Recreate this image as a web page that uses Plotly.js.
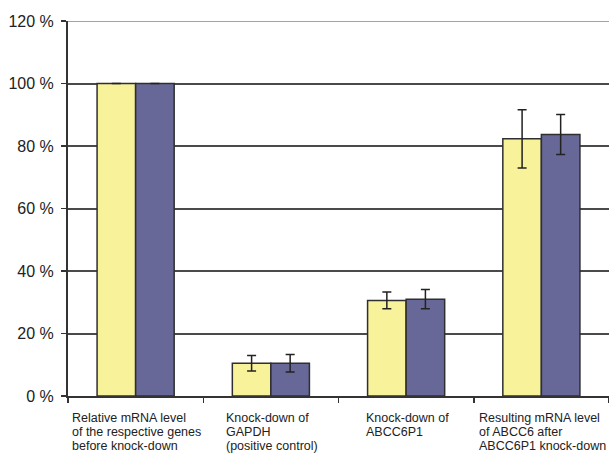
<!DOCTYPE html>
<html>
<head>
<meta charset="utf-8">
<script src="https://cdn.plot.ly/plotly-3.0.1.min.js"></script>
<style>html,body{margin:0;padding:0;background:#fff;}#chart{width:609px;height:453px;}</style>
</head>
<body>
<div id="chart"></div>
<script>
// Data
var categories = ['baseline', 'GAPDH', 'ABCC6P1', 'ABCC6'];
var categoryLabels = [
  ['Relative mRNA level', 'of the respective genes', 'before knock-down'],
  ['Knock-down of', 'GAPDH', '(positive control)'],
  ['Knock-down of', 'ABCC6P1'],
  ['Resulting mRNA level', 'of ABCC6 after', 'ABCC6P1 knock-down']
];
var series1Values = [100, 10.5, 30.6, 82.3];
var series1Errors = [0, 2.5, 2.7, 9.3];
var series2Values = [100, 10.5, 31.0, 83.7];
var series2Errors = [0, 2.8, 3.1, 6.4];
var yTickValues = [0, 20, 40, 60, 80, 100, 120];
var yTickLabels = ['0 %', '20 %', '40 %', '60 %', '80 %', '100 %', '120 %'];

var FONT = 'Liberation Sans, Arial, sans-serif';
var LABEL_SIZE = 12.5;
var outline = {color: '#2f2f2f', width: 1.5};
var errStyle = {type: 'data', visible: true, color: '#222', thickness: 1.5, width: 4.5};

var traces = [
  {
    type: 'bar', name: 'Series 1', x: categories, y: series1Values,
    marker: {color: '#f8f29b', line: outline},
    error_y: Object.assign({array: series1Errors}, errStyle),
    hoverinfo: 'none'
  },
  {
    type: 'bar', name: 'Series 2', x: categories, y: series2Values,
    marker: {color: '#676897', line: outline},
    error_y: Object.assign({array: series2Errors}, errStyle),
    hoverinfo: 'none'
  }
];

// left-aligned label blocks centred on each category
var ctx = document.createElement('canvas').getContext('2d');
ctx.font = LABEL_SIZE + 'px "Liberation Sans", Arial, sans-serif';
var annotations = [];
categories.forEach(function (c, i) {
  var lines = categoryLabels[i];
  var blockW = Math.max.apply(null, lines.map(function (t) { return ctx.measureText(t).width; }));
  lines.forEach(function (t, j) {
    annotations.push({
      xref: 'x', yref: 'paper', x: c, y: 0,
      xanchor: 'left', yanchor: 'middle',
      xshift: -blockW / 2 - 1, yshift: -22 - 14 * j,
      align: 'left', showarrow: false, text: t,
      font: {family: FONT, size: LABEL_SIZE, color: '#222'}
    });
  });
});

var layout = {
  width: 609, height: 453,
  margin: {l: 68, r: 0, t: 21, b: 57, pad: 0},
  paper_bgcolor: '#fff', plot_bgcolor: '#fff',
  showlegend: false,
  barmode: 'group', bargap: 0.43, bargroupgap: 0,
  font: {family: FONT, color: '#222'},
  xaxis: {
    type: 'category', range: [-0.5, 3.5],
    showticklabels: false, tickson: 'boundaries',
    ticks: 'outside', ticklen: 5, tickwidth: 1.5, tickcolor: '#333',
    showline: true, linecolor: '#333', linewidth: 2,
    showgrid: false, zeroline: false, fixedrange: true
  },
  yaxis: {
    range: [0, 120], tickmode: 'array', tickvals: yTickValues, ticktext: yTickLabels,
    ticks: 'outside', ticklen: 5, tickwidth: 1.5, tickcolor: '#333',
    ticklabelstandoff: 4,
    tickfont: {size: 16, color: '#222', family: FONT},
    showline: true, linecolor: '#333', linewidth: 2,
    showgrid: true, gridcolor: '#4a4a4a', gridwidth: 2,
    zeroline: false, fixedrange: true
  },
  shapes: [
    {type: 'line', xref: 'paper', yref: 'y', x0: 0, x1: 1,
     y0: yTickValues[yTickValues.length - 1], y1: yTickValues[yTickValues.length - 1],
     line: {color: '#a3a3a3', width: 2}, layer: 'above'}
  ],
  annotations: annotations
};

Plotly.newPlot('chart', traces, layout, {displayModeBar: false, staticPlot: true});
</script>
</body>
</html>
